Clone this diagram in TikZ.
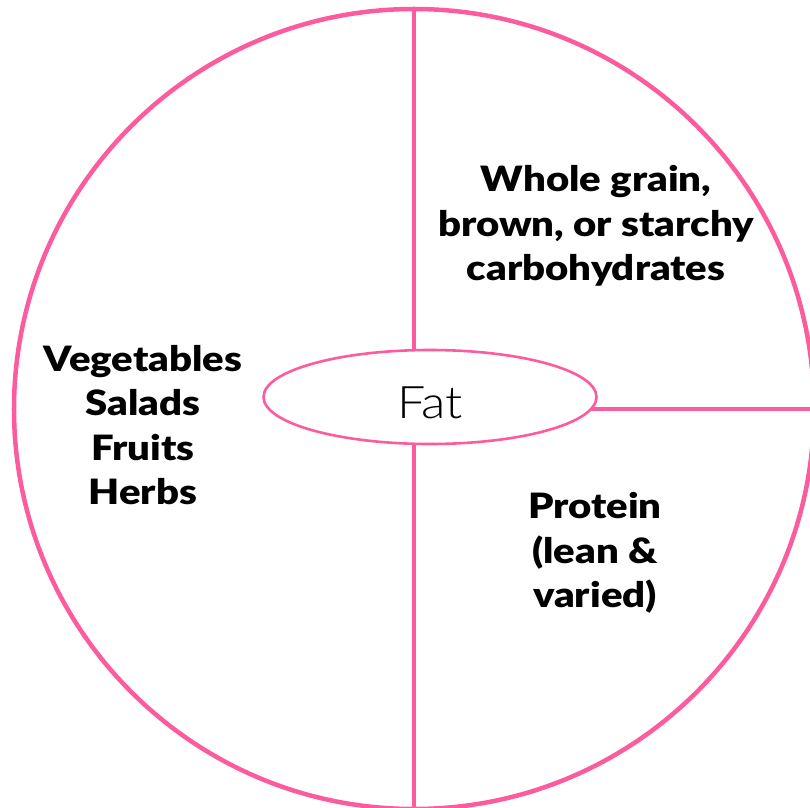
\documentclass[tikz,border=0pt]{standalone}
\usepackage{fontspec}
\setmainfont{Lato}[BoldFont={Lato Black}, BoldFeatures={FakeStretch=1.15}]
\newfontfamily\fatfont{Lato Light}[FakeStretch=1.12]
\usepackage{xcolor}
\usepackage{tikz}
\usetikzlibrary{shapes.geometric, backgrounds}
\definecolor{platepink}{RGB}{252,92,158}
\tikzset{
    plate/.style={circle, draw=platepink, line width=4.5bp, inner sep=0pt,
        minimum size=800bp},
    divider/.style={draw=platepink, line width=3.5bp},
    fatbox/.style={ellipse, draw=platepink, line width=2.6bp, fill=white, inner sep=0pt,
        minimum width=333bp, minimum height=94bp, text height=44bp,
        font=\fatfont\fontsize{45}{45}\selectfont},
    group/.style={align=center, font=\bfseries\fontsize{35}{44.5}\selectfont},
}
\begin{document}
\begin{tikzpicture}[x=1bp, y=-1bp]
    \useasboundingbox (0,0) rectangle (810,808);
    \node[plate] (plate) at (414,409) {};
    \node[fatbox] (fat) at (430,397) {Fat};
    \begin{scope}[on background layer]
        \draw[divider] (plate.north) -- (plate.south);
        \draw[divider] (plate.center) -- (plate.east);
    \end{scope}
    \node[group] (veg) at (143,425) {Vegetables\\Salads\\Fruits\\Herbs};
    \node[group] (carb) at (596,226) {Whole grain,\\brown, or starchy\\carbohydrates};
    \node[group] (prot) at (595,553) {Protein\\(lean \&\\varied)};
\end{tikzpicture}
\end{document}
